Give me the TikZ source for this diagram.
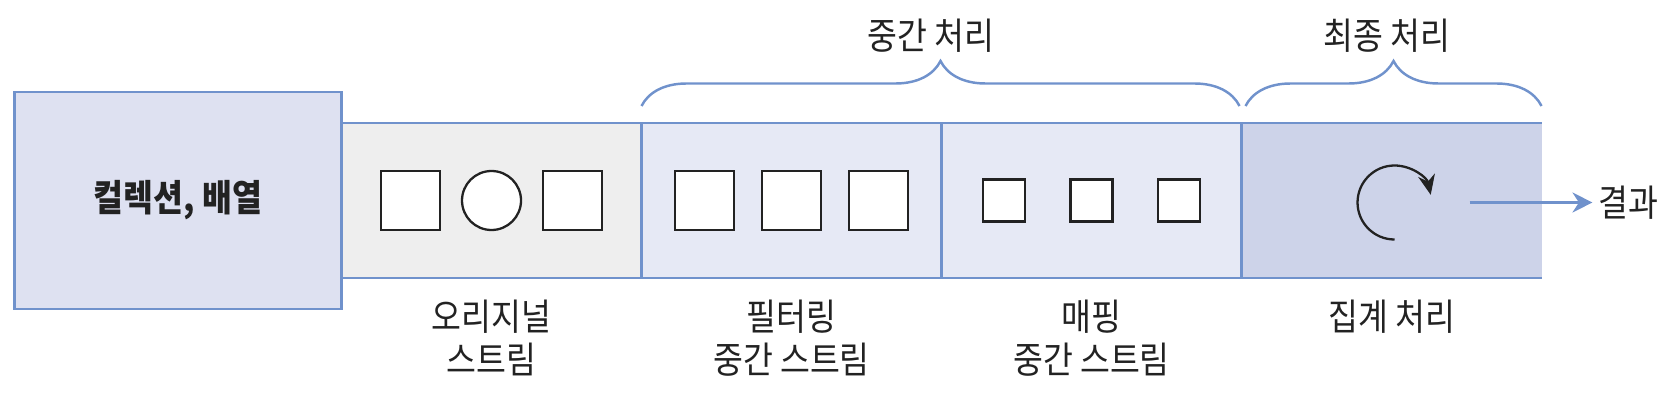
\documentclass[tikz,border=0pt]{standalone}
\usepackage{fontspec}
\setmainfont{Noto Sans CJK KR}[FakeStretch=0.88]
\usepackage{tikz}
\usetikzlibrary{positioning, arrows.meta, calc, decorations.pathreplacing}
\pgfdeclarelayer{background}
\pgfsetlayers{background,main}
\definecolor{edgeblue}{HTML}{7092CC}
\definecolor{collfill}{HTML}{DEE1F1}
\definecolor{origfill}{HTML}{EEEEEE}
\definecolor{midfill}{HTML}{E6E9F5}
\definecolor{aggfill}{HTML}{CDD3E9}
\definecolor{txtgray}{HTML}{222222}
\tikzset{
    edge/.style={draw=edgeblue, line width=1.4pt},
    blk/.style={edge, fill=collfill, minimum width=65.4mm, minimum height=43.4mm, outer sep=0pt, font=\fontsize{21}{24}\selectfont\bfseries},
    seg/.style={fill=#1, minimum width=60mm, minimum height=31mm, outer sep=0pt, inner sep=0pt},
    bigsq/.style={draw=txtgray, line width=1.3pt, fill=white, minimum size=11.8mm, inner sep=0pt},
    smsq/.style={bigsq, minimum size=8.4mm},
    ring/.style={bigsq, circle},
    capt/.style={align=center, inner sep=0pt},
    brc/.style={edge, decorate, decoration={brace, amplitude=9mm}},
}

\begin{document}
\begin{tikzpicture}[x=0.2mm, y=-0.2mm, text=txtgray, font=\fontsize{21}{24.4}\selectfont]
    \useasboundingbox (0,0) rectangle (1678,409);

    \node[blk] (coll) at (178,200.5) {컬렉션, 배열};

    % stream band
    \begin{pgfonlayer}{background}
    \node[seg=origfill, right=0pt of coll] (orig) {};
    \node[seg=midfill, right=0pt of orig] (filt) {};
    \node[seg=midfill, right=0pt of filt] (map) {};
    \node[seg=aggfill, right=0pt of map] (agg) {};
    \end{pgfonlayer}

    \draw[edge] (orig.north west) -- (agg.north east);
    \draw[edge] (orig.south west) -- (agg.south east);
    \draw[edge] (filt.north west) -- (filt.south west);
    \draw[edge] (map.north west) -- (map.south west);
    \draw[edge] (agg.north west) -- (agg.south west);

    \node[ring] (o2) at (orig.center) {};
    \node[bigsq, left=4mm of o2] (o1) {};
    \node[bigsq, right=4mm of o2] (o3) {};

    \node[bigsq] (f2) at (filt.center) {};
    \node[bigsq, left=5.2mm of f2] (f1) {};
    \node[bigsq, right=5.2mm of f2] (f3) {};

    \node[smsq] (m2) at (map.center) {};
    \node[smsq, left=8.6mm of m2] (m1) {};
    \node[smsq, right=8.6mm of m2] (m3) {};

    % aggregation and result
    \coordinate (spin) at ($(agg.center)+(3,2)$);
    \draw[txtgray, line width=1.3pt, -{Stealth[length=4mm, width=3.4mm]}]
        ($(spin)+(0,37)$) arc[start angle=270, end angle=12, radius=7.4mm];

    \coordinate (out) at ($(agg.center)+(78,2)$);
    \node (res) at ($(out)+(159,0)$) {결과};
    \draw[edge, -{Stealth[length=4mm, width=4mm]}] (out) -- (res);

    % captions
    \node[capt, below=4.4mm of orig] (origcap) {오리지널\\스트림};
    \node[capt, below=4.4mm of filt] (filtcap) {필터링\\중간 스트림};
    \node[capt, below=4.4mm of map] (mapcap) {매핑\\중간 스트림};
    \node[capt, below=4.4mm of agg] (aggcap) {집계 처리};

    % braces
    \coordinate (mL) at ($(filt.north west)+(0,-17)$);
    \coordinate (mR) at ($(map.north east)+(-2,-17)$);
    \coordinate (fL) at ($(agg.north west)+(4,-17)$);
    \coordinate (fR) at ($(agg.north east)+(0,-17)$);
    \draw[brc] (mL) -- (mR);
    \draw[brc] (fL) -- (fR);
    \node (midtitle) at ($(mL)!.5!(mR)+(-10,-70)$) {중간 처리};
    \node (endtitle) at ($(fL)!.5!(fR)+(-7,-70)$) {최종 처리};
\end{tikzpicture}
\end{document}
